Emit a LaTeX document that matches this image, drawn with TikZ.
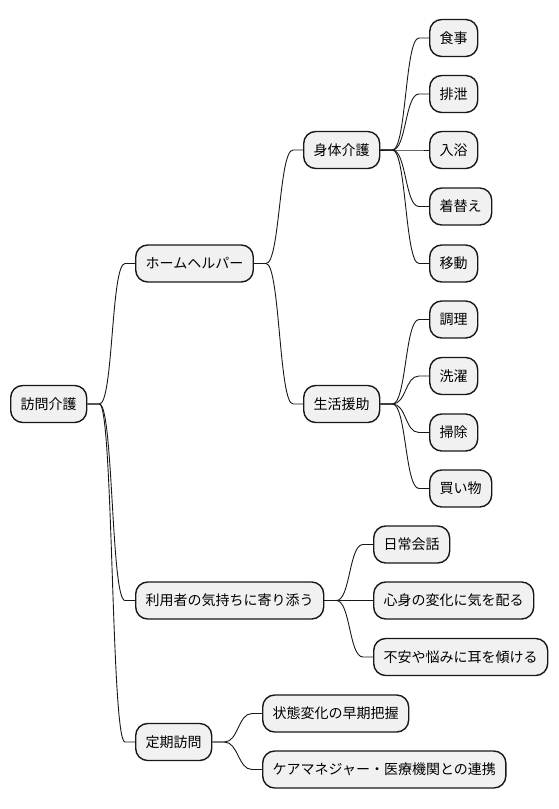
\documentclass[tikz,border=0pt]{standalone}
\usepackage{fontspec}
\setmainfont{Noto Sans CJK JP}
\usetikzlibrary{calc}
\definecolor{boxfill}{HTML}{F1F1F1}
\definecolor{boxline}{HTML}{181818}
\tikzset{
  mm/.style={draw=boxline, fill=boxfill, line width=1.4pt, rounded corners=12pt,
    minimum height=37pt, inner xsep=10pt, inner ysep=0pt, anchor=west,
    font=\fontsize{14pt}{16pt}\selectfont, text=black},
  link/.style={draw=boxline, line width=0.9pt}
}
\newcommand{\mmlink}[2]{%
  \draw[link] (#1.east) -- ++(12pt,0) .. controls +(14pt,0) and ($(#2.west)+(-24pt,0)$) .. ($(#2.west)+(-10pt,0)$) -- (#2.west);}
\begin{document}
\begin{tikzpicture}[x=1pt,y=-1pt]
\useasboundingbox (0,0) rectangle (558,809);
\node[mm] (root) at (10,404) {訪問介護};
\node[mm] (hh) at (135,263.5) {ホームヘルパー};
\node[mm] (shintai) at (303,150) {身体介護};
\node[mm] (seikatsu) at (303,404) {生活援助};
\node[mm] (shokuji) at (429,38) {食事};
\node[mm] (haisetsu) at (429,94) {排泄};
\node[mm] (nyuyoku) at (429,150) {入浴};
\node[mm] (kigae) at (429,206.5) {着替え};
\node[mm] (ido) at (429,263.5) {移動};
\node[mm] (chori) at (429,319.5) {調理};
\node[mm] (sentaku) at (429,376) {洗濯};
\node[mm] (soji) at (429,432.5) {掃除};
\node[mm] (kaimono) at (429,488.5) {買い物};
\node[mm] (riyosha) at (135,600.5) {利用者の気持ちに寄り添う};
\node[mm] (nichijo) at (373,544.5) {日常会話};
\node[mm] (shinshin) at (373,600.5) {心身の変化に気を配る};
\node[mm] (fuan) at (373,657) {不安や悩みに耳を傾ける};
\node[mm] (teiki) at (135,742) {定期訪問};
\node[mm] (jotai) at (262,713.5) {状態変化の早期把握};
\node[mm] (renkei) at (262,769.5) {ケアマネジャー・医療機関との連携};
\mmlink{root}{hh}
\mmlink{root}{riyosha}
\mmlink{root}{teiki}
\mmlink{hh}{shintai}
\mmlink{hh}{seikatsu}
\mmlink{shintai}{shokuji}
\mmlink{shintai}{haisetsu}
\mmlink{shintai}{nyuyoku}
\mmlink{shintai}{kigae}
\mmlink{shintai}{ido}
\mmlink{seikatsu}{chori}
\mmlink{seikatsu}{sentaku}
\mmlink{seikatsu}{soji}
\mmlink{seikatsu}{kaimono}
\mmlink{riyosha}{nichijo}
\mmlink{riyosha}{shinshin}
\mmlink{riyosha}{fuan}
\mmlink{teiki}{jotai}
\mmlink{teiki}{renkei}
\end{tikzpicture}
\end{document}
